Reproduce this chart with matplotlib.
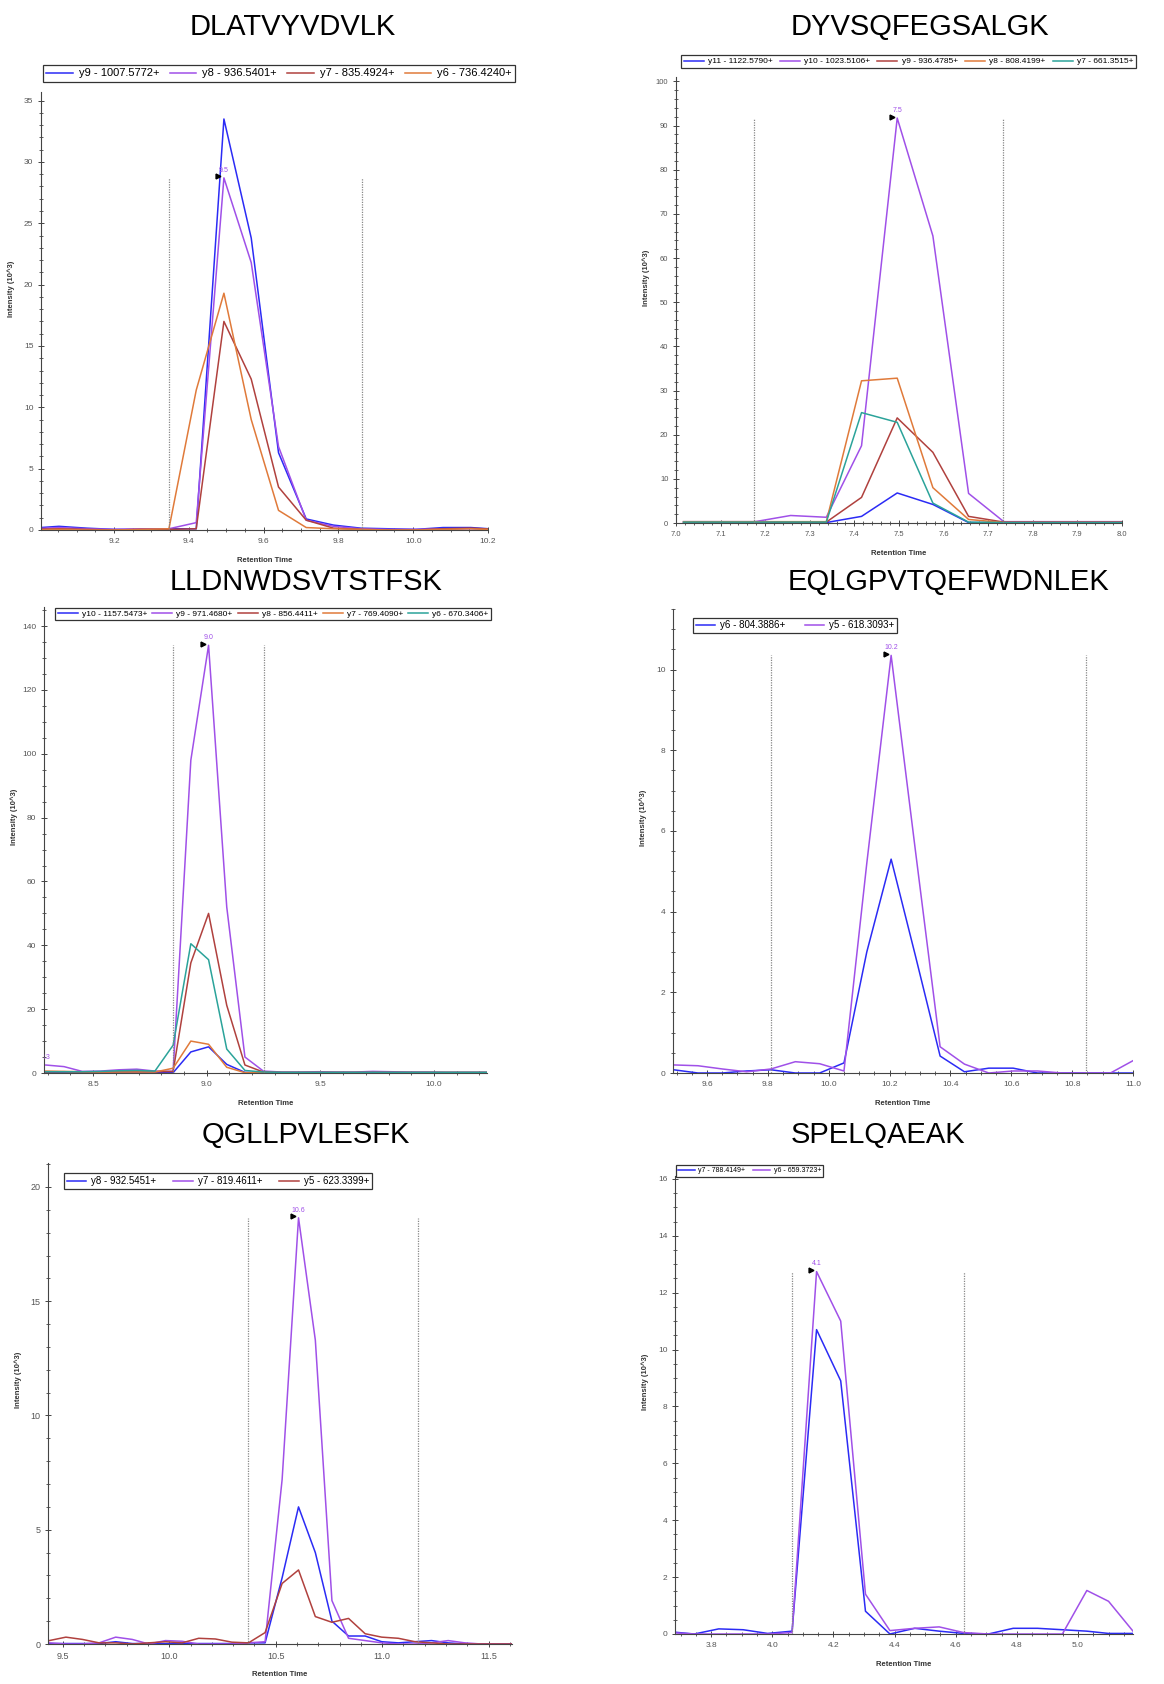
import matplotlib
matplotlib.use("Agg")
import matplotlib.pyplot as plt
import matplotlib.transforms as mtransforms
from matplotlib.ticker import MultipleLocator, FormatStrFormatter

# colours of the transition traces
BLUE = "#2B2BF5"
PURPLE = "#A050E8"
RED = "#B0413E"
ORANGE = "#E07A3A"
TEAL = "#2BA39A"

# ---- DLATVYVDVLK
t_dlat = [8.980, 9.053, 9.127, 9.200, 9.274, 9.347, 9.420, 9.494, 9.567, 9.640,
          9.714, 9.787, 9.860, 9.934, 10.007, 10.080, 10.154, 10.227]
dlat_y9 = [0.15, 0.3, 0.15, 0.05, 0.05, 0.1, 0.1, 33.5, 23.8, 6.3, 0.9, 0.4, 0.15, 0.1, 0.05, 0.2, 0.2, 0.05]
dlat_y8 = [0.1, 0.2, 0.1, 0.05, 0.1, 0.1, 0.6, 28.7, 21.8, 6.8, 0.8, 0.3, 0.1, 0.05, 0.05, 0.1, 0.1, 0.05]
dlat_y7 = [0.05, 0.1, 0.05, 0.0, 0.05, 0.05, 0.1, 17.0, 12.3, 3.5, 0.8, 0.15, 0.05, 0.0, 0.0, 0.1, 0.15, 0.05]
dlat_y6 = [0.0, 0.05, 0.0, 0.0, 0.05, 0.1, 11.4, 19.3, 9.0, 1.6, 0.2, 0.1, 0.05, 0.0, 0.0, 0.05, 0.1, 0.0]
dlat_labels = ["y9 - 1007.5772+", "y8 - 936.5401+", "y7 - 835.4924+", "y6 - 736.4240+"]

# ---- DYVSQFEGSALGK
t_dyvs = [7.017, 7.097, 7.177, 7.257, 7.337, 7.416, 7.496, 7.576, 7.656, 7.735,
          7.815, 7.895, 7.975, 8.055]
dyvs_y11 = [0.1, 0.1, 0.1, 0.1, 0.1, 1.5, 6.8, 4.2, 0.1, 0.1, 0.1, 0.1, 0.1, 0.1]
dyvs_y10 = [0.3, 0.3, 0.3, 1.7, 1.3, 17.5, 91.7, 65.0, 6.7, 0.3, 0.3, 0.3, 0.3, 0.3]
dyvs_y9 = [0.2, 0.2, 0.2, 0.2, 0.2, 5.8, 23.8, 16.0, 1.5, 0.2, 0.2, 0.2, 0.2, 0.2]
dyvs_y8 = [0.3, 0.3, 0.3, 0.3, 0.3, 32.2, 32.8, 8.0, 0.8, 0.1, 0.1, 0.1, 0.1, 0.1]
dyvs_y7 = [0.2, 0.2, 0.2, 0.2, 0.2, 25.0, 22.8, 4.5, 0.2, 0.1, 0.1, 0.1, 0.1, 0.1]
dyvs_labels = ["y11 - 1122.5790+", "y10 - 1023.5106+", "y9 - 936.4785+", "y8 - 808.4199+", "y7 - 661.3515+"]

# ---- LLDNWDSVTSTFSK
t_lldn = [8.292, 8.372, 8.452, 8.532, 8.612, 8.692, 8.772, 8.852, 8.930, 9.008,
          9.088, 9.168, 9.249, 9.330, 9.410, 9.490, 9.570, 9.650, 9.730, 9.810,
          9.890, 9.970, 10.050, 10.130, 10.210, 10.290]
lldn_y10 = [0.2, 0.2, 0.1, 0.1, 0.2, 0.2, 0.1, 0.1, 6.6, 8.2, 2.7, 0.2, 0.1,
            0.1, 0.1, 0.1, 0.1, 0.1, 0.1, 0.1, 0.1, 0.1, 0.1, 0.1, 0.1, 0.1]
lldn_y9 = [2.5, 2.0, 0.5, 0.6, 1.0, 1.2, 0.6, 0.5, 98.0, 134.0, 52.0, 5.0, 0.6,
           0.3, 0.3, 0.4, 0.3, 0.3, 0.5, 0.4, 0.3, 0.3, 0.2, 0.2, 0.2, 0.2]
lldn_y8 = [0.3, 0.4, 0.3, 0.3, 0.4, 0.5, 0.4, 0.5, 34.5, 50.0, 21.2, 2.5, 0.3,
           0.2, 0.2, 0.2, 0.2, 0.2, 0.2, 0.2, 0.2, 0.2, 0.2, 0.2, 0.2, 0.2]
lldn_y7 = [0.6, 0.5, 0.4, 0.3, 0.3, 0.3, 0.3, 1.5, 10.0, 9.0, 1.8, 0.1, 0.1,
           0.1, 0.1, 0.1, 0.1, 0.1, 0.1, 0.1, 0.1, 0.1, 0.1, 0.1, 0.1, 0.1]
lldn_y6 = [0.4, 0.4, 0.4, 0.5, 0.7, 0.8, 0.6, 8.7, 40.5, 35.5, 7.5, 0.8, 0.3,
           0.2, 0.2, 0.2, 0.2, 0.2, 0.2, 0.2, 0.2, 0.2, 0.2, 0.2, 0.2, 0.2]
lldn_labels = ["y10 - 1157.5473+", "y9 - 971.4680+", "y8 - 856.4411+", "y7 - 769.4090+", "y6 - 670.3406+"]

# ---- EQLGPVTQEFWDNLEK
t_eqlg = [9.490, 9.570, 9.650, 9.730, 9.810, 9.890, 9.970, 10.050, 10.125, 10.205,
          10.285, 10.366, 10.446, 10.526, 10.606, 10.686, 10.766, 10.846, 10.926, 11.006]
eqlg_y6 = [0.08, 0.0, 0.0, 0.05, 0.08, 0.0, 0.0, 0.25, 3.0, 5.3,
           2.9, 0.42, 0.03, 0.12, 0.12, 0.0, 0.0, 0.0, 0.0, 0.0]
eqlg_y5 = [0.2, 0.18, 0.1, 0.03, 0.1, 0.28, 0.23, 0.05, 5.2, 10.35,
           5.5, 0.65, 0.22, 0.0, 0.05, 0.05, 0.0, 0.0, 0.0, 0.33]
eqlg_labels = ["y6 - 804.3886+", "y5 - 618.3093+"]

# ---- QGLLPVLESFK
t_qgll = [9.436, 9.514, 9.592, 9.670, 9.748, 9.826, 9.904, 9.982, 10.060, 10.138,
          10.216, 10.294, 10.372, 10.450, 10.530, 10.607, 10.686, 10.764, 10.842, 10.920,
          10.998, 11.076, 11.154, 11.232, 11.310, 11.388, 11.466, 11.544, 11.622]
qgll_y8 = [0.02, 0.02, 0.02, 0.02, 0.1, 0.02, 0.02, 0.02, 0.02, 0.02,
           0.02, 0.02, 0.05, 0.05, 2.9, 6.0, 4.0, 1.0, 0.35, 0.35,
           0.1, 0.05, 0.1, 0.15, 0.05, 0.0, 0.0, 0.0, 0.0]
qgll_y7 = [0.05, 0.0, 0.0, 0.05, 0.3, 0.2, 0.0, 0.15, 0.12, 0.0,
           0.0, 0.0, 0.05, 0.1, 7.2, 18.65, 13.3, 1.9, 0.25, 0.15,
           0.05, 0.0, 0.0, 0.05, 0.15, 0.05, 0.0, 0.0, 0.0]
qgll_y5 = [0.15, 0.3, 0.2, 0.05, 0.05, 0.0, 0.05, 0.1, 0.05, 0.25,
           0.22, 0.08, 0.05, 0.5, 2.65, 3.24, 1.2, 0.95, 1.12, 0.45,
           0.3, 0.25, 0.1, 0.05, 0.0, 0.0, 0.0, 0.0, 0.0]
qgll_labels = ["y8 - 932.5451+", "y7 - 819.4611+", "y5 - 623.3399+"]

# ---- SPELQAEAK
t_spel = [3.665, 3.745, 3.825, 3.905, 3.985, 4.065, 4.145, 4.224, 4.305, 4.385,
          4.466, 4.546, 4.626, 4.707, 4.788, 4.868, 4.949, 5.029, 5.100, 5.180]
spel_y7 = [0.08, 0.0, 0.18, 0.15, 0.02, 0.1, 10.7, 8.9, 0.8, 0.0,
           0.2, 0.1, 0.02, 0.0, 0.2, 0.2, 0.15, 0.1, 0.02, 0.02]
spel_y6 = [0.05, 0.0, 0.0, 0.0, 0.0, 0.05, 12.74, 11.0, 1.4, 0.12,
           0.2, 0.25, 0.05, 0.0, 0.0, 0.0, 0.0, 1.53, 1.15, 0.1]
spel_labels = ["y7 - 788.4149+", "y6 - 659.3723+"]

W, H = 1164, 1684
fig = plt.figure(figsize=(W / 100, H / 100), dpi=100)
plt.rcParams["font.family"] = ["Liberation Sans", "DejaVu Sans"]


def px_rect(l, t, r, b):
    return [l / W, 1 - b / H, (r - l) / W, (b - t) / H]


def draw_panel(title, title_xy, rect, t, series, colors, labels, legend_box, legend_fs, hlen,
               xlim, ylim, xmaj, xmin, ymaj, ymin, bounds, peak_idx, peak_label, tick_fs):
    ax = fig.add_axes(px_rect(*rect))
    for s, c in zip(series, colors):
        ax.plot(t, s, color=c, lw=1.1)
    ax.set_xlim(*xlim)
    ax.set_ylim(*ylim)

    # boundaries of the integrated peak, up to the apex of the labelled trace
    apex_series = series[peak_idx]
    apex_i = max(range(len(apex_series)), key=lambda i: apex_series[i])
    px, py = t[apex_i], apex_series[apex_i]
    ax.vlines(bounds, 0, py, colors="#888888", linestyles=(0, (1, 1)), lw=0.9)
    trans = mtransforms.offset_copy(ax.transData, fig=fig, x=-4, y=1, units="points")
    ax.plot([px], [py], marker=">", color="black", ms=3.5, transform=trans)
    ax.annotate(peak_label, (px, py), xytext=(0, 3), textcoords="offset points",
                ha="center", va="bottom", fontsize=5, color=PURPLE)

    for side in ["top", "right"]:
        ax.spines[side].set_visible(False)
    for side in ["left", "bottom"]:
        ax.spines[side].set_color("#444444")
        ax.spines[side].set_linewidth(0.8)
    ax.xaxis.set_major_locator(MultipleLocator(xmaj))
    ax.xaxis.set_minor_locator(MultipleLocator(xmin))
    ax.yaxis.set_major_locator(MultipleLocator(ymaj))
    ax.yaxis.set_minor_locator(MultipleLocator(ymin))
    ax.xaxis.set_major_formatter(FormatStrFormatter("%.1f"))
    ax.yaxis.set_major_formatter(FormatStrFormatter("%g"))
    ax.tick_params(which="both", direction="inout", colors="#444444", labelsize=tick_fs,
                   labelcolor="#555555")
    ax.tick_params(which="major", length=4, width=0.7)
    ax.tick_params(which="minor", length=2.5, width=0.6)

    width_px = rect[2] - rect[0]
    height_px = rect[3] - rect[1]
    ax.set_xlabel("Retention Time", fontsize=5.5, fontweight="bold", color="#333333")
    ax.xaxis.set_label_coords(0.5, -27 / height_px)
    ax.set_ylabel("Intensity (10^3)", fontsize=5.5, fontweight="bold", color="#333333")
    ax.yaxis.set_label_coords(-26 / width_px, 0.55)

    l, tp, r, b = legend_box
    ax.legend(labels, loc="center", ncol=len(labels), mode="expand",
              bbox_to_anchor=(l / W, 1 - b / H, (r - l) / W, (b - tp) / H),
              bbox_transform=fig.transFigure, fontsize=legend_fs, frameon=True,
              fancybox=False, edgecolor="black", borderpad=0.3, handlelength=hlen,
              handletextpad=0.5, columnspacing=0.8, borderaxespad=0)
    ax.get_legend().get_frame().set_linewidth(0.9)

    fig.text(title_xy[0] / W, 1 - title_xy[1] / H, title, fontsize=21,
             ha="center", va="center")
    return ax


draw_panel("DLATVYVDVLK", (293, 27), (41, 92, 488, 530), t_dlat,
           [dlat_y9, dlat_y8, dlat_y7, dlat_y6], [BLUE, PURPLE, RED, ORANGE], dlat_labels,
           (43, 63, 515, 84), 8, 2.4, (9.005, 10.2), (0, 35.7), 0.2, 0.05, 5, 1,
           [9.347, 9.862], 1, "9.5", 6)

draw_panel("DYVSQFEGSALGK", (920, 27), (676, 77, 1122, 523), t_dyvs,
           [dyvs_y11, dyvs_y10, dyvs_y9, dyvs_y8, dyvs_y7], [BLUE, PURPLE, RED, ORANGE, TEAL],
           dyvs_labels, (681, 53, 1136, 70), 6, 2.4, (7.0, 8.0), (0, 101), 0.1, 0.02, 10, 2,
           [7.176, 7.734], 1, "7.5", 5.5)

ax3 = draw_panel("LLDNWDSVTSTFSK", (306, 582), (44, 607, 487, 1073), t_lldn,
                 [lldn_y10, lldn_y9, lldn_y8, lldn_y7, lldn_y6], [BLUE, PURPLE, RED, ORANGE, TEAL],
                 lldn_labels, (55, 605, 491, 623), 6, 2.4, (8.284, 10.233), (0, 146), 0.5, 0.1, 20, 5,
                 [8.852, 9.25], 1, "9.0", 6)
ax3.annotate("8.3", (t_lldn[0], lldn_y9[0]), xytext=(0, 3), textcoords="offset points",
             ha="center", va="bottom", fontsize=5, color=PURPLE, annotation_clip=False,
             clip_on=True)

draw_panel("EQLGPVTQEFWDNLEK", (948, 582), (673, 609, 1133, 1073), t_eqlg,
           [eqlg_y6, eqlg_y5], [BLUE, PURPLE], eqlg_labels,
           (693, 616, 897, 635), 7, 2.0, (9.488, 11.0), (0, 11.5), 0.2, 0.05, 2, 0.5,
           [9.811, 10.845], 1, "10.2", 6)

draw_panel("QGLLPVLESFK", (306, 1135), (48, 1163, 512, 1644), t_qgll,
           [qgll_y8, qgll_y7, qgll_y5], [BLUE, PURPLE, RED], qgll_labels,
           (64, 1170, 372, 1192), 7, 2.0, (9.43, 11.61), (0, 21.05), 0.5, 0.1, 5, 1,
           [10.37, 11.167], 1, "10.6", 6.5)

draw_panel("SPELQAEAK", (878, 1135), (675, 1176, 1133, 1634), t_spel,
           [spel_y7, spel_y6], [BLUE, PURPLE], spel_labels,
           (676, 1165, 823, 1177), 5, 2.4, (3.682, 5.18), (0, 16.1), 0.2, 0.05, 2, 0.5,
           [4.065, 4.627], 1, "4.1", 6)

fig.savefig("out.png", dpi=100)
